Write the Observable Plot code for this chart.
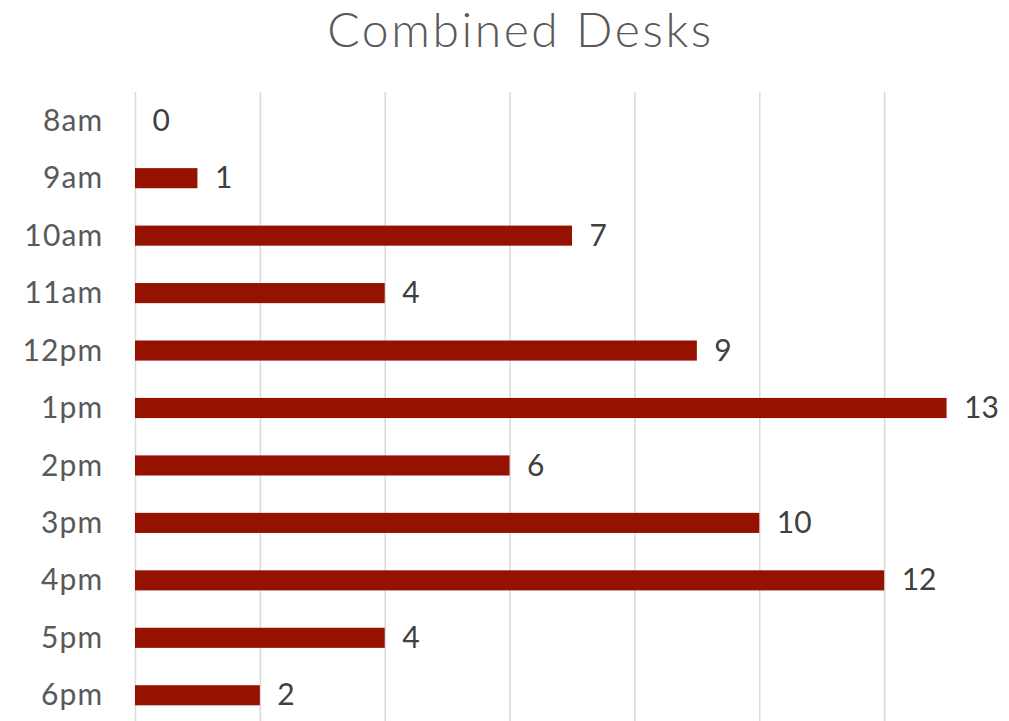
<!DOCTYPE html>
<html>
<head>
<meta charset="utf-8">
<script src="https://cdn.jsdelivr.net/npm/d3@7"></script>
<script src="https://cdn.jsdelivr.net/npm/@observablehq/plot@0.6"></script>
<style>
  html, body { margin: 0; padding: 0; background: #fff; overflow: hidden; width: 1009px; height: 721px; }
  #wrap { position: relative; width: 1009px; height: 721px; }
  #title { position: absolute; left: 16px; width: 1009px; top: 0px; text-align: center;
           font-family: Lato, sans-serif; font-weight: 300; font-size: 48px; letter-spacing: 2.6px;
           color: #595959; line-height: 58px; }
  #chart { position: absolute; left: 0; top: 0; }
</style>
</head>
<body>
<div id="wrap">
  <div id="chart"></div>
  <div id="title">Combined Desks</div>
</div>
<script>
const hours = ["8am","9am","10am","11am","12pm","1pm","2pm","3pm","4pm","5pm","6pm"];
const desks = [0, 1, 7, 4, 9, 13, 6, 10, 12, 4, 2];
const gridTicks = [0, 2, 4, 6, 8, 10, 12];

const data = hours.map((h, i) => ({hour: h, value: desks[i]}));

const chart = Plot.plot({
  width: 1009,
  height: 724,
  marginTop: 92,
  marginBottom: 0,
  marginLeft: 135,
  marginRight: 0,
  style: {fontFamily: "Lato, sans-serif", background: "#fff"},
  x: {domain: [0, 14], axis: null},
  y: {domain: hours, paddingInner: 0.65, paddingOuter: 0.325, round: false, label: null},
  marks: [
    Plot.ruleX(gridTicks, {stroke: "#d9d9d9", strokeWidth: 1.5}),
    Plot.barX(data, {x: "value", y: "hour", fill: "#961200"}),
    Plot.text(data, {x: "value", y: "hour", text: d => String(d.value), textAnchor: "start", dx: 17, fontSize: 30, fill: "#404040"}),
    Plot.axisY({tickSize: 0, tickPadding: 32, fontSize: 30, color: "#595959", label: null})
  ]
});
chart.querySelectorAll("[aria-label='y-axis tick label'] text").forEach(t => t.style.letterSpacing = "1.2px");
document.getElementById("chart").appendChild(chart);
</script>
</body>
</html>
